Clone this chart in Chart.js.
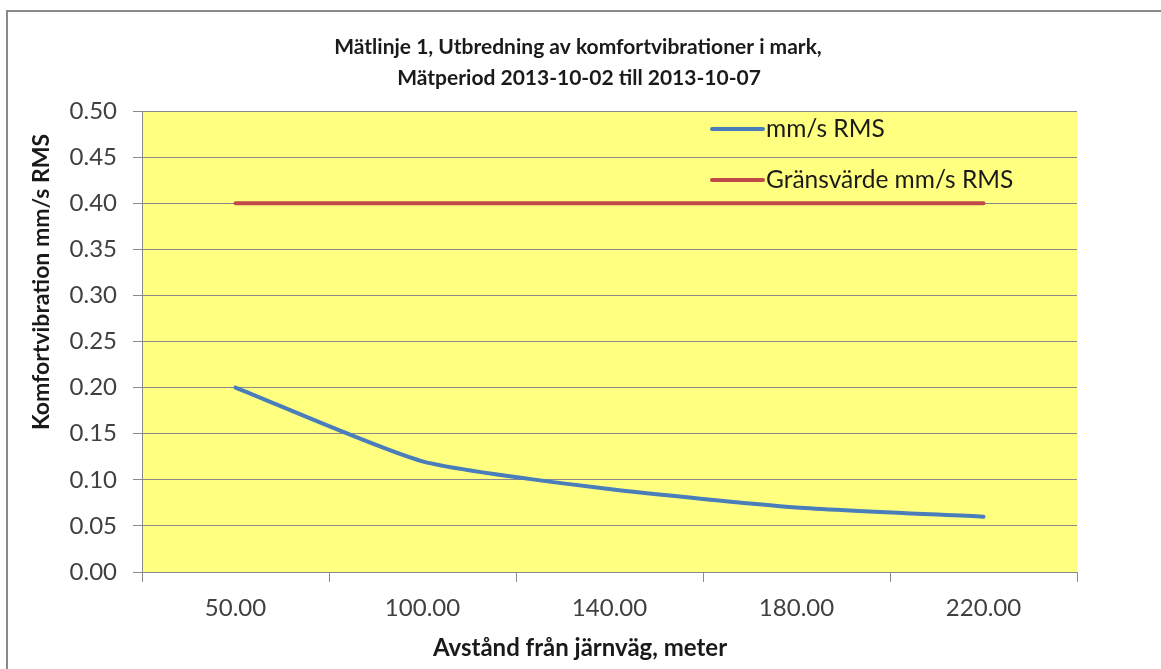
<!DOCTYPE html>
<html>
<head>
<meta charset="utf-8">
<script src="https://cdn.jsdelivr.net/npm/chart.js@4.4.1/dist/chart.umd.min.js"></script>
<style>
  html, body { margin: 0; padding: 0; background: #ffffff; }
  #wrap { width: 1161px; height: 669px; }
</style>
</head>
<body>
<div id="wrap"><canvas id="c" width="1161" height="669"></canvas></div>
<script>
// Distance from the railway (m) and measured comfort vibration levels
const distances = ['50.00', '100.00', '140.00', '180.00', '220.00'];
const rmsValues = [0.20, 0.12, 0.09, 0.07, 0.06];
const limitValues = [0.40, 0.40, 0.40, 0.40, 0.40];
const yMin = 0.00;
const yMax = 0.50;
const yStep = 0.05;

const titleLines = ['Mätlinje 1, Utbredning av komfortvibrationer i mark,', 'Mätperiod 2013-10-02 till 2013-10-07'];
const xTitle = 'Avstånd från järnväg, meter';
const yTitle = 'Komfortvibration mm/s RMS';

const FONT = 'Lato, "Open Sans", sans-serif';

// Frame, yellow plot background, titles and an in-plot legend
const decor = {
  id: 'decor',
  beforeDraw(chart) {
    const { ctx, chartArea: a } = chart;
    ctx.save();
    ctx.fillStyle = '#ffffff';
    ctx.fillRect(0, 0, chart.width, chart.height);
    ctx.strokeStyle = '#8a8a8a';
    ctx.lineWidth = 2;
    ctx.strokeRect(7, 11, chart.width + 20, chart.height + 20);
    ctx.fillStyle = '#ffff80';
    ctx.fillRect(a.left, a.top, a.right - a.left, a.bottom - a.top);
    ctx.restore();
  },
  afterDraw(chart) {
    const { ctx } = chart;
    ctx.save();
    ctx.fillStyle = '#1a1a1a';
    ctx.textAlign = 'center';
    ctx.textBaseline = 'middle';
    ctx.font = 'bold 21px ' + FONT;
    ctx.fillText(titleLines[0], 578, 47);
    ctx.fillText(titleLines[1], 579, 78);
    ctx.font = 'bold 24px ' + FONT;
    ctx.fillText(xTitle, 580, 648);
    ctx.font = 'bold 23px ' + FONT;
    ctx.translate(42, 282);
    ctx.rotate(-Math.PI / 2);
    ctx.fillText(yTitle, 0, 0);
    ctx.restore();

    // legend
    ctx.save();
    ctx.font = '24.5px ' + FONT;
    ctx.textAlign = 'left';
    ctx.textBaseline = 'middle';
    const rows = [129, 180];
    chart.data.datasets.forEach((ds, i) => {
      const y = rows[i];
      ctx.strokeStyle = ds.borderColor;
      ctx.lineWidth = 4;
      ctx.lineCap = 'round';
      ctx.beginPath();
      ctx.moveTo(712, y);
      ctx.lineTo(763, y);
      ctx.stroke();
      ctx.fillStyle = '#1a1a1a';
      ctx.fillText(ds.label, 766, y);
    });
    ctx.restore();
  }
};

new Chart(document.getElementById('c'), {
  type: 'line',
  data: {
    labels: distances,
    datasets: [
      {
        label: 'mm/s RMS',
        data: rmsValues,
        borderColor: '#4a7ebb',
        borderWidth: 4,
        pointRadius: 0,
        tension: 0.2,
        borderCapStyle: 'round'
      },
      {
        label: 'Gränsvärde mm/s RMS',
        data: limitValues,
        borderColor: '#be4b48',
        borderWidth: 4,
        pointRadius: 0,
        tension: 0,
        borderCapStyle: 'round'
      }
    ]
  },
  options: {
    responsive: false,
    animation: false,
    devicePixelRatio: 1,
    layout: { padding: { left: 0, right: 84, top: 111, bottom: 0 } },
    plugins: {
      legend: { display: false },
      tooltip: { enabled: false },
      title: { display: false }
    },
    scales: {
      x: {
        offset: true,
        grid: {
          offset: true,
          drawOnChartArea: false,
          drawTicks: true,
          tickLength: 10,
          color: '#8a8a8a'
        },
        border: { display: true, color: '#8a8a8a', width: 1 },
        ticks: {
          color: '#404040',
          padding: 12,
          font: { family: FONT, size: 24 }
        },
        afterFit(s) { s.height = 97; }
      },
      y: {
        min: yMin,
        max: yMax,
        grid: {
          color: '#8a8a8a',
          tickLength: 9,
          drawTicks: true
        },
        border: { display: true, color: '#8a8a8a', width: 1 },
        ticks: {
          stepSize: yStep,
          color: '#404040',
          padding: 16,
          font: { family: FONT, size: 24 },
          callback: (v) => Number(v).toFixed(2)
        },
        afterFit(s) { s.width = 142; }
      }
    }
  },
  plugins: [decor]
});
</script>
</body>
</html>
